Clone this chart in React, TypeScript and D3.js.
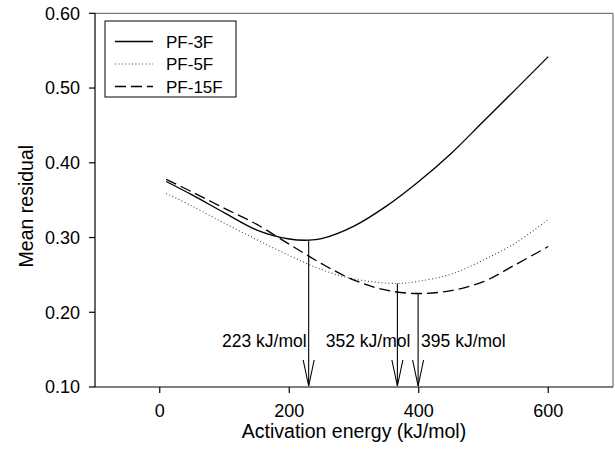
import React from 'react';
import * as d3 from 'd3';

// ---- data ----
const xTicks = [0, 200, 400, 600];
const yTicks = [0.1, 0.2, 0.3, 0.4, 0.5, 0.6];
const seriesNames = ['PF-3F', 'PF-5F', 'PF-15F'];

const pf3fX = [10, 50, 100, 150, 200, 230, 250, 300, 350, 400, 450, 500, 550, 600];
const pf3fY = [0.375, 0.357, 0.333, 0.31, 0.298, 0.2964, 0.2985, 0.3153, 0.342, 0.375, 0.4125, 0.4555, 0.4985, 0.542];

const pf5fX = [10, 50, 100, 150, 200, 250, 300, 367, 400, 450, 500, 550, 600];
const pf5fY = [0.359, 0.342, 0.319, 0.297, 0.276, 0.257, 0.2445, 0.2385, 0.2415, 0.251, 0.27, 0.293, 0.324];

const pf15fX = [10, 50, 100, 150, 200, 250, 300, 350, 399, 450, 500, 550, 600];
const pf15fY = [0.3777, 0.361, 0.339, 0.3175, 0.291, 0.265, 0.243, 0.2295, 0.2251, 0.229, 0.241, 0.264, 0.288];

const arrowX = [230, 367, 399];
const arrowTop = [0.2964, 0.2385, 0.2251];
const arrowLabels = ['223 kJ/mol', '352 kJ/mol', '395 kJ/mol'];

// ---- layout ----
const W = 615;
const H = 453;
const left = 95;
const right = 613;
const top = 13.3;
const bottom = 387;
const FONT = 'Liberation Sans, Arial, Helvetica, sans-serif';
const FS = 17.5;
const TKS = 18;
const TFS = 19.5;

const labelAnchor = ['end', 'end', 'start'];
const labelDx = [-2, 13, 3];

export default function App() {
  const x = d3.scaleLinear().domain([-100, 700]).range([left, right]);
  const y = d3.scaleLinear().domain([0.1, 0.6]).range([bottom, top]);

  const line = d3
    .line<[number, number]>()
    .x((d) => x(d[0]))
    .y((d) => y(d[1]))
    .curve(d3.curveCatmullRom.alpha(0.5));

  const zip = (xs: number[], ys: number[]) => xs.map((v, i) => [v, ys[i]] as [number, number]);

  const series = [
    { name: seriesNames[0], pts: zip(pf3fX, pf3fY), dash: 'none', color: '#000', w: 1.3 },
    { name: seriesNames[1], pts: zip(pf5fX, pf5fY), dash: '1,2.4', color: '#444', w: 1.1 },
    { name: seriesNames[2], pts: zip(pf15fX, pf15fY), dash: '11,5', color: '#000', w: 1.3 },
  ];

  const legendX = 105;
  const legendY = 21;
  const legendW = 131;
  const legendH = 76;
  const rowY = [41.5, 64, 86.5];

  return (
    <svg
      width={W}
      height={H}
      style={{ position: 'absolute', left: 0, top: 0, background: '#fff' }}
      fontFamily={FONT}
    >
      <rect x={0} y={0} width={W} height={H} fill="#fff" />
      {/* frame */}
      <line x1={left} x2={right} y1={top} y2={top} stroke="#555" strokeWidth={1} />
      <line x1={right} x2={right} y1={top} y2={bottom} stroke="#555" strokeWidth={1} />
      {/* y axis */}
      <line x1={left} x2={left} y1={top} y2={bottom} stroke="#000" strokeWidth={1.2} />
      {yTicks.map((t) => (
        <g key={'y' + t}>
          <line x1={left - 6} x2={left} y1={y(t)} y2={y(t)} stroke="#000" strokeWidth={1.2} />
          <text x={80} y={y(t) + 6.3} textAnchor="end" fontSize={TKS} fill="#000">
            {t.toFixed(2)}
          </text>
        </g>
      ))}
      {/* x axis */}
      <line x1={left} x2={right} y1={bottom} y2={bottom} stroke="#000" strokeWidth={1.2} />
      {xTicks.map((t) => (
        <g key={'x' + t}>
          <line x1={x(t)} x2={x(t)} y1={bottom} y2={bottom + 6} stroke="#000" strokeWidth={1.2} />
          <text x={x(t)} y={417} textAnchor="middle" fontSize={TKS} fill="#000">
            {t}
          </text>
        </g>
      ))}
      <text x={(left + right) / 2} y={438} textAnchor="middle" fontSize={TFS} fill="#000">
        Activation energy (kJ/mol)
      </text>
      <text
        transform={`translate(33,${(top + bottom) / 2 + 6}) rotate(-90)`}
        textAnchor="middle"
        fontSize={TFS}
        fill="#000"
      >
        Mean residual
      </text>

      {/* series */}
      {series.map((s) => (
        <path
          key={s.name}
          d={line(s.pts) || ''}
          fill="none"
          stroke={s.color}
          strokeWidth={s.w}
          strokeDasharray={s.dash}
        />
      ))}

      {/* arrows */}
      {arrowX.map((a, i) => {
        const ax = x(a);
        const ay = y(arrowTop[i]);
        return (
          <g key={'a' + i}>
            <line x1={ax} x2={ax} y1={ay} y2={bottom - 1} stroke="#000" strokeWidth={1.1} />
            <polyline
              points={`${ax - 5.5},${bottom - 27} ${ax},${bottom - 1} ${ax + 5.5},${bottom - 27}`}
              fill="none"
              stroke="#000"
              strokeWidth={1.1}
            />
            <text
              x={ax + labelDx[i]}
              y={347}
              textAnchor={labelAnchor[i] as any}
              fontSize={FS}
              fill="#000"
            >
              {arrowLabels[i]}
            </text>
          </g>
        );
      })}

      {/* legend */}
      <rect x={legendX} y={legendY} width={legendW} height={legendH} fill="#fff" stroke="#000" strokeWidth={1} />
      {series.map((s, i) => (
        <g key={'l' + i}>
          <line
            x1={115}
            x2={153}
            y1={rowY[i]}
            y2={rowY[i]}
            stroke={s.color}
            strokeWidth={s.w}
            strokeDasharray={s.dash}
          />
          <text x={166} y={rowY[i] + 6} fontSize={17} fill="#000">
            {s.name}
          </text>
        </g>
      ))}
    </svg>
  );
}
